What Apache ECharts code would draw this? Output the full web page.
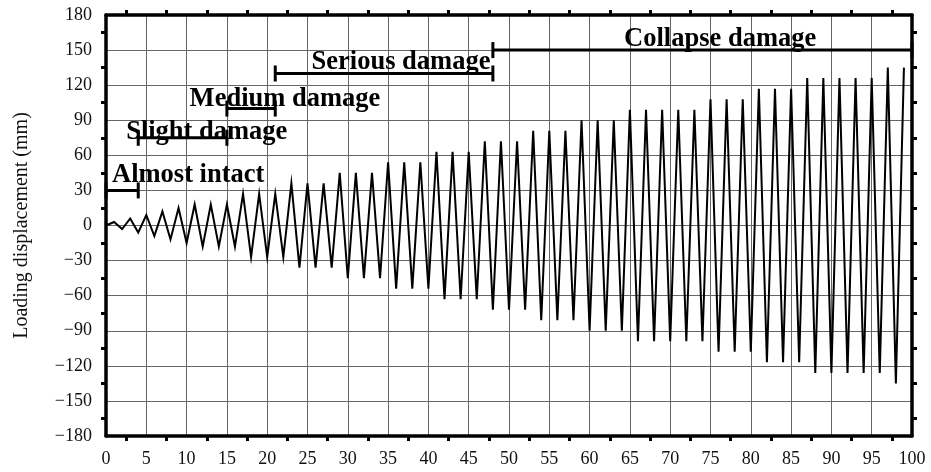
<!DOCTYPE html>
<html>
<head>
<meta charset="utf-8">
<script src="https://cdn.jsdelivr.net/npm/echarts@6/dist/echarts.min.js"></script>
<style>
html,body{margin:0;padding:0;background:#fff;}
#chart{width:931px;height:472px;}
</style>
</head>
<body>
<div id="chart"></div>
<script>
// Loading step (x) values 0..99 and the loading displacement at each step (mm)
const displacement = [
  0, 3, -3, 6, -6, 9, -9, 12, -12, 15,
  -15, 18, -18, 18, -18, 18, -18, 27, -27, 27,
  -27, 27, -27, 36, -36, 36, -36, 36, -36, 45,
  -45, 45, -45, 45, -45, 54, -54, 54, -54, 54,
  -54, 63, -63, 63, -63, 63, -63, 72, -72, 72,
  -72, 72, -72, 81, -81, 81, -81, 81, -81, 90,
  -90, 90, -90, 90, -90, 99, -99, 99, -99, 99,
  -99, 99, -99, 99, -99, 108, -108, 108, -108, 108,
  -108, 117, -117, 117, -117, 117, -117, 126, -126, 126,
  -126, 126, -126, 126, -126, 126, -126, 135, -135, 135
];

// Damage stages: bracket start/end step and bracket level (mm)
const stageNames = ['Almost intact', 'Slight damage', 'Medium damage', 'Serious damage', 'Collapse damage'];
const stageStart = [0, 4, 15, 21, 48];
const stageEnd   = [4, 15, 21, 48, 100];
const stageLevel = [30, 75, 100, 130, 150];
// Stage label anchor (data coordinates)
const labelX = [10.2, 12.5, 22.2, 36.6, 76.2];
const labelY = [43, 80, 108, 140, 159];

const xTicks = {min: 0, max: 100, interval: 5};
const yTicks = {min: -180, max: 180, interval: 30};

const FONT = '"Liberation Serif", "Times New Roman", serif';

const curveData = displacement.map((v, i) => [i, v]);

const series = [{
  type: 'line',
  data: curveData,
  showSymbol: false,
  symbol: 'none',
  lineStyle: {color: '#000', width: 2, join: 'miter'},
  z: 3,
  silent: true
}];

stageNames.forEach((n, i) => {
  series.push({
    type: 'line',
    data: [[stageStart[i], stageLevel[i]], [stageEnd[i], stageLevel[i]]],
    symbol: 'rect',
    symbolSize: [3, 16],
    showSymbol: true,
    itemStyle: {color: '#000'},
    lineStyle: {color: '#000', width: 3},
    z: 4,
    silent: true
  });
});

series.push({
  type: 'scatter',
  data: stageNames.map((n, i) => ({name: n, value: [labelX[i], labelY[i]]})),
  symbolSize: 0,
  itemStyle: {color: '#000', opacity: 1},
  label: {
    show: true,
    position: [0, 0],
    align: 'center',
    verticalAlign: 'middle',
    formatter: p => p.name,
    fontFamily: FONT,
    fontWeight: 'bold',
    fontSize: 26.5,
    color: '#000',
    opacity: 1,
    textBorderWidth: 0
  },
  z: 5,
  silent: true
});

const common = {
  axisTick: {show: false},
  minorTick: {show: true, splitNumber: 2, length: 5, inside: true, lineStyle: {color: '#000', width: 3}},
  axisLine: {show: true, onZero: false, lineStyle: {color: '#000', width: 3.5}},
};

const option = {
  animation: false,
  backgroundColor: '#fff',
  grid: {left: 106, right: 19, top: 15, bottom: 36, containLabel: false},
  xAxis: [
    Object.assign({
      type: 'value', position: 'bottom',
      min: xTicks.min, max: xTicks.max, interval: xTicks.interval,
      axisLabel: {fontFamily: FONT, fontSize: 18, color: '#111', margin: 14},
      splitLine: {show: true, lineStyle: {color: '#666', width: 1}}
    }, common),
    Object.assign({
      type: 'value', position: 'top',
      min: xTicks.min, max: xTicks.max, interval: xTicks.interval,
      axisLabel: {show: false},
      splitLine: {show: false}
    }, common)
  ],
  yAxis: [
    Object.assign({
      type: 'value', position: 'left',
      min: yTicks.min, max: yTicks.max, interval: yTicks.interval,
      name: 'Loading displacement (mm)',
      nameLocation: 'middle',
      nameGap: 74,
      nameTextStyle: {fontFamily: FONT, fontSize: 20, color: '#111'},
      axisLabel: {fontFamily: FONT, fontSize: 18, color: '#111', margin: 14,
        formatter: v => (v < 0 ? '\u2212' + Math.abs(v) : String(v))},
      splitLine: {show: true, lineStyle: {color: '#666', width: 1}}
    }, common),
    Object.assign({
      type: 'value', position: 'right',
      min: yTicks.min, max: yTicks.max, interval: yTicks.interval,
      axisLabel: {show: false},
      splitLine: {show: false}
    }, common)
  ],
  series: series
};

const chart = echarts.init(document.getElementById('chart'), null, {renderer: 'canvas'});
chart.setOption(option);
</script>
</body>
</html>
